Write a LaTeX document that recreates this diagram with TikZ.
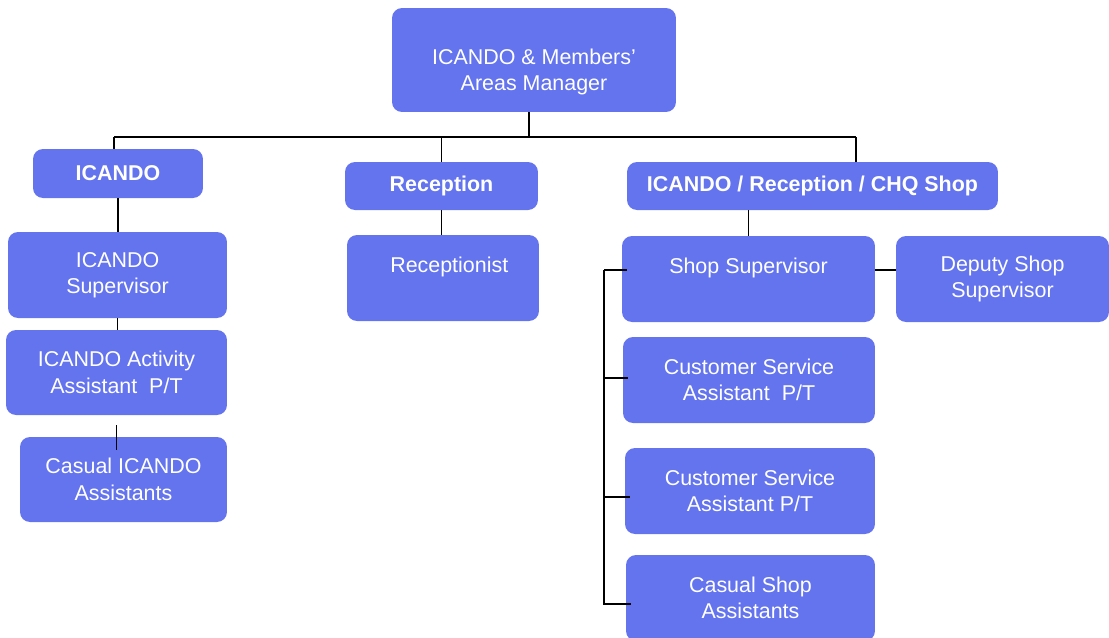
\documentclass[tikz,border=0pt]{standalone}
\usepackage{fontspec}
\setmainfont{Liberation Sans}
\usetikzlibrary{calc}
\definecolor{unitblue}{RGB}{99,116,238}
\tikzset{
  unit/.style ={fill=unitblue,text=white,rounded corners=0.2cm,align=center,inner sep=0pt,
                font=\fontsize{12.2pt}{15pt}\selectfont},
  head/.style ={unit,font=\fontsize{12.2pt}{15pt}\selectfont\bfseries},
  link/.style ={draw=black,line width=1.1pt},
}

\begin{document}
\begin{tikzpicture}[x=0.02cm,y=-0.02cm]
  \useasboundingbox (0,0) rectangle (1109,637);
  % manager and the three areas
  \node[unit,minimum width=5.68cm,minimum height=2.08cm] (mgr) at (534,60) {\rule{0pt}{0.78cm}ICANDO \& Members'\\Areas Manager};
  \node[head,minimum width=3.40cm,minimum height=0.98cm] (icando) at (118,173.5) {ICANDO};
  \node[head,minimum width=3.86cm,minimum height=0.96cm] (recep) at (441.5,186) {Reception};
  \node[head,minimum width=7.42cm,minimum height=0.96cm] (chq) at (812.5,186) {ICANDO / Reception / CHQ Shop};
  % ICANDO column
  \node[unit,minimum width=4.38cm,minimum height=1.72cm] (icsup) at (117.5,275) {ICANDO\\Supervisor};
  \node[unit,minimum width=4.42cm,minimum height=1.70cm] (icact) at (116.5,372.5) {ICANDO Activity\\Assistant\ \ P/T};
  \node[unit,minimum width=4.14cm,minimum height=1.70cm] (iccas) at (123.5,479.5) {Casual ICANDO\\Assistants};
  % reception column
  \node[unit,minimum width=3.84cm,minimum height=1.72cm] (recept) at (443,278) {\hspace*{0.25cm}Receptionist\\\mbox{}};
  % shop column
  \node[unit,minimum width=5.06cm,minimum height=1.72cm] (shopsup) at (748.5,279) {Shop Supervisor\\\mbox{}};
  \node[unit,minimum width=4.26cm,minimum height=1.72cm] (depsup) at (1002.5,279) {Deputy Shop\\Supervisor};
  \node[unit,minimum width=5.04cm,minimum height=1.72cm] (csa1) at (749,380) {Customer Service\\Assistant\ \ P/T};
  \node[unit,minimum width=5.00cm,minimum height=1.72cm] (csa2) at (750,491) {Customer Service\\Assistant P/T};
  \node[unit,minimum width=4.98cm,minimum height=1.72cm] (casshop) at (750.5,598) {Casual Shop\\Assistants};

  % top bus
  \coordinate (bus) at (529,137);
  \coordinate (busL) at (114,137);
  \coordinate (busR) at (856,137);
  \draw[link] (mgr.south -| bus) -- (bus);
  \draw[link] (busL) -- (busR);
  \draw[link] (busL) -- (busL |- icando.north);
  \draw[link] (recep.north |- bus) -- (recep.north);
  \draw[link] (busR) -- (busR |- chq.north);
  % ICANDO chain
  \draw[link] (icando.south) -- (icando.south |- icsup.north);
  \draw[link] (icsup.south) -- (icsup.south |- icact.north);
  \draw[link] ($(icact.south)+(0,10)$) -- ($(icact.south |- iccas.north)+(0,13)$);
  % reception and shop
  \draw[link] (recep.south) -- (recep.south |- recept.north);
  \draw[link] (shopsup.north |- chq.south) -- (shopsup.north);
  \coordinate (rail) at (604,270);
  \draw[link] (shopsup.east |- rail) -- (depsup.west |- rail);
  \foreach \n/\dy in {shopsup/-9,csa1/-2,csa2/6,casshop/6}
    \draw[link] ($(\n.west)+(5,\dy)$) -| (rail);
\end{tikzpicture}
\end{document}
